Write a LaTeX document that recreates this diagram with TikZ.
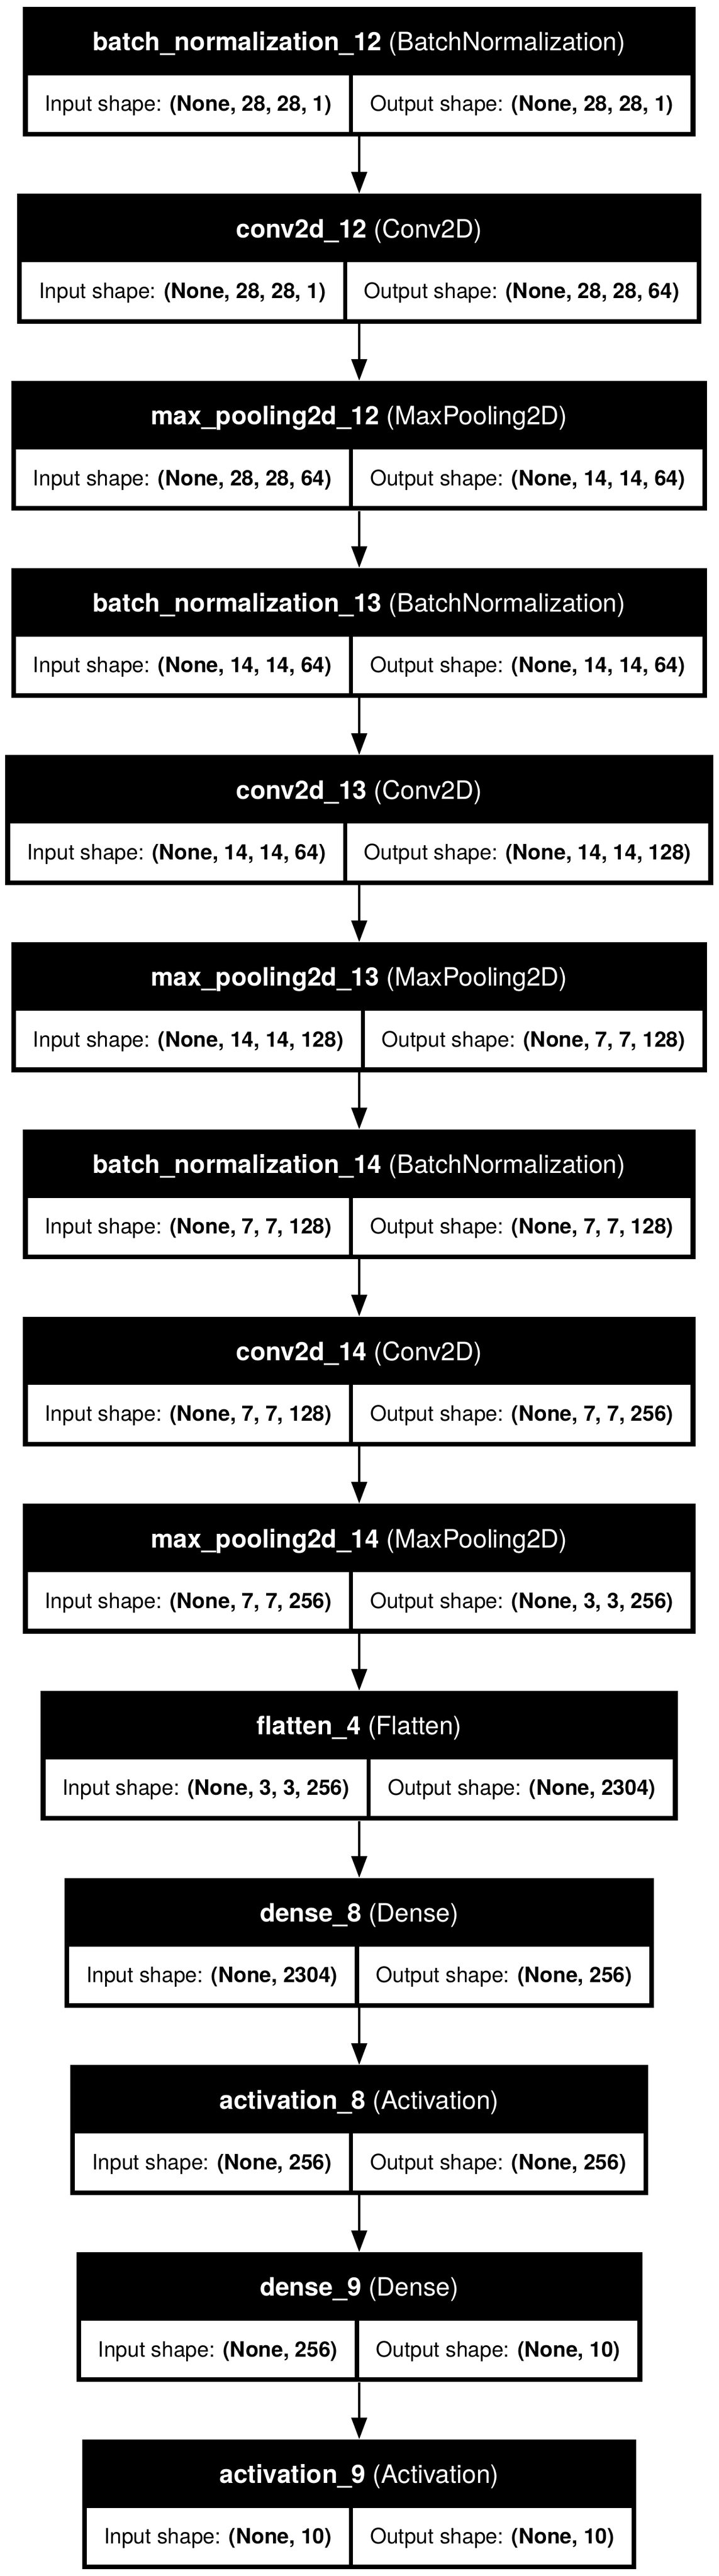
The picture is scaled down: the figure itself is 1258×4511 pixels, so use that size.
\documentclass[tikz,border=0pt]{standalone}
\usepackage{fontspec}
\setmainfont{TeX Gyre Heros}
\usetikzlibrary{matrix,fit,backgrounds,arrows.meta}

\tikzset{
  cell/.style={fill=white, inner xsep=30bp, inner ysep=0pt, minimum height=99.3bp,
    text height=27bp, text depth=0pt, font=\fontsize{37.2bp}{44bp}\selectfont},
  shaperow/.style={matrix of nodes, nodes={cell}, column sep=7.3bp, inner sep=0pt, anchor=north},
  frame/.style={fill=black, inner sep=8bp},
  title/.style={text=white, text height=34bp, text depth=0pt, font=\fontsize{44.4bp}{52bp}\selectfont},
  link/.style={-{Triangle[width=27bp,length=38bp]}, line width=4.8bp},
}

\begin{document}
\begin{tikzpicture}[x=1bp, y=-1bp]
		\useasboundingbox (0,0) rectangle (1258,4511);
		\matrix (m1) [shaperow] at (629,131.3) {Input shape: \textbf{(None, 28, 28, 1)} & Output shape: \textbf{(None, 28, 28, 1)}\\};
		\node[title] (t1) at ([yshift=59.85bp]m1.north) {\textbf{batch\_normalization\_12} (BatchNormalization)};
		\matrix (m2) [shaperow] at (629,459.0) {Input shape: \textbf{(None, 28, 28, 1)} & Output shape: \textbf{(None, 28, 28, 64)}\\};
		\node[title] (t2) at ([yshift=59.85bp]m2.north) {\textbf{conv2d\_12} (Conv2D)};
		\matrix (m3) [shaperow] at (629,786.7) {Input shape: \textbf{(None, 28, 28, 64)} & Output shape: \textbf{(None, 14, 14, 64)}\\};
		\node[title] (t3) at ([yshift=59.85bp]m3.north) {\textbf{max\_pooling2d\_12} (MaxPooling2D)};
		\matrix (m4) [shaperow] at (629,1114.4) {Input shape: \textbf{(None, 14, 14, 64)} & Output shape: \textbf{(None, 14, 14, 64)}\\};
		\node[title] (t4) at ([yshift=59.85bp]m4.north) {\textbf{batch\_normalization\_13} (BatchNormalization)};
		\matrix (m5) [shaperow] at (629,1442.1) {Input shape: \textbf{(None, 14, 14, 64)} & Output shape: \textbf{(None, 14, 14, 128)}\\};
		\node[title] (t5) at ([yshift=59.85bp]m5.north) {\textbf{conv2d\_13} (Conv2D)};
		\matrix (m6) [shaperow] at (629,1769.8) {Input shape: \textbf{(None, 14, 14, 128)} & Output shape: \textbf{(None, 7, 7, 128)}\\};
		\node[title] (t6) at ([yshift=59.85bp]m6.north) {\textbf{max\_pooling2d\_13} (MaxPooling2D)};
		\matrix (m7) [shaperow] at (629,2097.5) {Input shape: \textbf{(None, 7, 7, 128)} & Output shape: \textbf{(None, 7, 7, 128)}\\};
		\node[title] (t7) at ([yshift=59.85bp]m7.north) {\textbf{batch\_normalization\_14} (BatchNormalization)};
		\matrix (m8) [shaperow] at (629,2425.2) {Input shape: \textbf{(None, 7, 7, 128)} & Output shape: \textbf{(None, 7, 7, 256)}\\};
		\node[title] (t8) at ([yshift=59.85bp]m8.north) {\textbf{conv2d\_14} (Conv2D)};
		\matrix (m9) [shaperow] at (629,2752.9) {Input shape: \textbf{(None, 7, 7, 256)} & Output shape: \textbf{(None, 3, 3, 256)}\\};
		\node[title] (t9) at ([yshift=59.85bp]m9.north) {\textbf{max\_pooling2d\_14} (MaxPooling2D)};
		\matrix (m10) [shaperow] at (629,3080.6) {Input shape: \textbf{(None, 3, 3, 256)} & Output shape: \textbf{(None, 2304)}\\};
		\node[title] (t10) at ([yshift=59.85bp]m10.north) {\textbf{flatten\_4} (Flatten)};
		\matrix (m11) [shaperow] at (629,3408.3) {Input shape: \textbf{(None, 2304)} & Output shape: \textbf{(None, 256)}\\};
		\node[title] (t11) at ([yshift=59.85bp]m11.north) {\textbf{dense\_8} (Dense)};
		\matrix (m12) [shaperow] at (629,3736.0) {Input shape: \textbf{(None, 256)} & Output shape: \textbf{(None, 256)}\\};
		\node[title] (t12) at ([yshift=59.85bp]m12.north) {\textbf{activation\_8} (Activation)};
		\matrix (m13) [shaperow] at (629,4063.7) {Input shape: \textbf{(None, 256)} & Output shape: \textbf{(None, 10)}\\};
		\node[title] (t13) at ([yshift=59.85bp]m13.north) {\textbf{dense\_9} (Dense)};
		\matrix (m14) [shaperow] at (629,4391.4) {Input shape: \textbf{(None, 10)} & Output shape: \textbf{(None, 10)}\\};
		\node[title] (t14) at ([yshift=59.85bp]m14.north) {\textbf{activation\_9} (Activation)};
		% black frames behind each layer
		\begin{scope}[on background layer]
			\foreach \i in {1,...,14}
				\node[frame, fit={(m\i.south west) ([yshift=111.7bp]m\i.north east)}] (L\i) {};
		\end{scope}
		\foreach \i [evaluate=\i as \j using int(\i+1)] in {1,...,13}
			\draw[link] (L\i) -- (L\j);
	\end{tikzpicture}
\end{document}
